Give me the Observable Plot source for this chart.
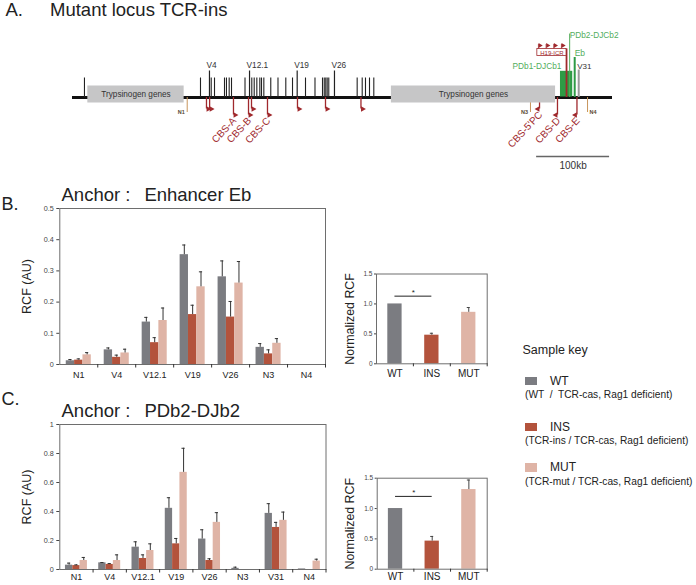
<!DOCTYPE html>
<html><head><meta charset="utf-8">
<script src="https://cdn.jsdelivr.net/npm/d3@7"></script>
<script src="https://cdn.jsdelivr.net/npm/@observablehq/plot@0.6"></script>
<style>
body{margin:0;background:#fff;font-family:"Liberation Sans",Arial,sans-serif;color:#222;}
#fig{position:relative;width:696px;height:585px;overflow:hidden;background:#fff;}
.abs{position:absolute;white-space:pre;line-height:1;}
</style></head><body><div id="fig"></div>
<script>
// ---------- data ----------
const samples = ["WT", "INS", "MUT"];
const sampleColors = ["#7b7c81", "#b3533c", "#dfb4a6"];
const sampleNotes = ["(WT  /  TCR-cas, Rag1 deficient)", "(TCR-ins / TCR-cas, Rag1 deficient)", "(TCR-mut / TCR-cas, Rag1 deficient)"];

// Panel B: anchor Enhancer Eb
const ebLoci = ["N1", "V4", "V12.1", "V19", "V26", "N3", "N4"];
const ebWT = [0.012, 0.047, 0.136, 0.352, 0.281, 0.055, 0];
const ebWTerr = [0.004, 0.006, 0.015, 0.031, 0.051, 0.012, 0];
const ebINS = [0.014, 0.023, 0.070, 0.160, 0.152, 0.034, 0];
const ebINSerr = [0.004, 0.007, 0.016, 0.030, 0.050, 0.013, 0];
const ebMUT = [0.031, 0.037, 0.141, 0.249, 0.261, 0.068, 0];
const ebMUTerr = [0.007, 0.012, 0.040, 0.048, 0.069, 0.015, 0];
const ebNorm = [1.0, 0.478, 0.86];
const ebNormErr = [0, 0.032, 0.08];

// Panel C: anchor PDb2-DJb2
const pdLoci = ["N1", "V4", "V12.1", "V19", "V26", "N3", "V31", "N4"];
const pdWT = [0.030, 0.046, 0.154, 0.422, 0.210, 0.008, 0.387, 0.004];
const pdWTerr = [0.014, 0.002, 0.037, 0.073, 0.064, 0.008, 0.067, 0];
const pdINS = [0.027, 0.035, 0.076, 0.177, 0.062, 0, 0.290, 0];
const pdINSerr = [0.005, 0.006, 0.025, 0.037, 0.012, 0, 0.035, 0];
const pdMUT = [0.062, 0.062, 0.131, 0.670, 0.325, 0, 0.339, 0.058];
const pdMUTerr = [0.021, 0.039, 0.046, 0.166, 0.067, 0, 0.057, 0.013];
const pdNorm = [1.0, 0.463, 1.313];
const pdNormErr = [0, 0.077, 0.157];

// Panel A: locus map (kb)
const locusKb = [0, 740];
const trypStart = [21, 437];
const trypEnd = [153, 662];
const trypLabel = ["Trypsinogen genes", "Trypsinogen genes"];
const vGenes = [16.4, 175.4, 190.1, 194.6, 208.3, 211.0, 214.7, 217.9, 236.4, 245.7, 249.0, 252.6, 256.7, 259.0, 262.2, 271.7, 281.6, 292.3, 301.5, 319.3, 332.3, 342.6, 345.0, 347.1, 349.0, 351.2, 390.1, 397.0, 401.5, 407.0, 412.9];
const vNamed = ["V4", "V12.1", "V19", "V26"];
const vNamedKb = [187.7, 242.6, 307.9, 359.0];
const cbsKb = [183.6, 187.9, 220.6, 241.2, 245.3, 267.2, 308.3, 346.7, 395.3, 640.0, 664.6, 691.3];
const cbsName = ["", "", "CBS-A", "CBS-B", "", "CBS-C", "", "", "", "CBS-5'PC", "CBS-D", "CBS-E"];
const cbsForward = [1, 1, 1, 1, 1, 1, 1, 1, 1, 0, 0, 0];
const cbsMajor = [0, 0, 1, 1, 0, 1, 0, 0, 0, 0, 1, 1];
const nKb = [157.2, 627.6, 705.8];
const nName = ["N1", "N3", "N4"];
const h19Kb = [637, 677];
const h19Flags = [638.5, 649, 659.5, 670];
const pdb1Block = [668.7, 685.5];
const pdb2Kb = 681.3;
const ebKb = 688.2;
const v31Kb = 693.7;
const scaleBarKb = [636, 736];

// ---------- helpers ----------
const fig = document.getElementById("fig");
const FONT = "'Liberation Sans', Arial, sans-serif";
function put(el, left, top) {
  el.style.position = "absolute"; el.style.left = left + "px"; el.style.top = top + "px";
  fig.appendChild(el);
}
function label(text, left, baseline, size, extra = {}) {
  const d = document.createElement("div");
  d.className = "abs"; d.textContent = text;
  d.style.fontSize = size + "px";
  d.style.left = left + "px"; d.style.top = (baseline - 0.8465 * size) + "px";
  Object.assign(d.style, extra);
  fig.appendChild(d);
}

// ---------- Panel A: locus map ----------
const red = "#a0292d", green = "#2e9b45", lightGreen = "#52ad5c", tan = "#c8955c";
const cbs = cbsKb.map((kb, i) => ({kb, name: cbsName[i], fwd: cbsForward[i] === 1, major: cbsMajor[i] === 1}));
const stemEnd = d => d.major ? 114.5 : 108.5;
const nm = nKb.map((kb, i) => ({kb, name: nName[i], i}));
const tryp = trypStart.map((s, i) => ({s, e: trypEnd[i], t: trypLabel[i]}));
const named = vNamed.map((n, i) => ({n, kb: vNamedKb[i]}));

const map = Plot.plot({
  width: 696, height: 185, marginLeft: 72, marginRight: 84, marginTop: 0, marginBottom: 0,
  x: {domain: locusKb, axis: null},
  y: {type: "identity", axis: null},
  style: {fontFamily: FONT, overflow: "visible", background: "transparent"},
  marks: [
    Plot.ruleY([locusKb], {x1: d => d[0], x2: d => d[1], y: 97, stroke: "#111", strokeWidth: 3.2}),
    Plot.ruleX(vGenes, {x: d => d, y1: 97, y2: 77.5, stroke: "#222", strokeWidth: 1.1}),
    Plot.ruleX(named, {x: "kb", y1: 97, y2: 70.5, stroke: "#222", strokeWidth: 1.2}),
    Plot.text(named, {x: "kb", y: 67.5, text: "n", textAnchor: "start", lineAnchor: "bottom", dx: -3, fontSize: 8.3, fill: "#333"}),
    // CBS arrows
    Plot.ruleX(cbs, {x: "kb", y1: 97, y2: stemEnd, stroke: red, strokeWidth: 1.3}),
    Plot.dot(cbs.filter(d => d.fwd), {x: "kb", y: stemEnd, symbol: "triangle", r: 2.1, fill: red, stroke: "none", rotate: 90, dx: 1.7}),
    Plot.dot(cbs.filter(d => !d.fwd), {x: "kb", y: stemEnd, symbol: "triangle", r: 2.1, fill: red, stroke: "none", rotate: -90, dx: -1.7}),
    Plot.text(cbs.filter(d => d.name), {x: "kb", y: d => stemEnd(d) + 4, text: "name", rotate: -47, textAnchor: "end", dx: 1, fill: red, fontSize: 10}),
    // N markers
    Plot.ruleX(nm, {x: "kb", y1: 97, y2: 112, stroke: tan, strokeWidth: 1}),
    Plot.text(nm.filter(d => d.i < nm.length - 1), {x: "kb", y: 113.5, text: "name", textAnchor: "end", lineAnchor: "bottom", dx: -2.5, fontSize: 5.5, fontWeight: "bold", fill: "#5a4a30"}),
    Plot.text(nm.filter(d => d.i === nm.length - 1), {x: "kb", y: 113.5, text: "name", textAnchor: "start", lineAnchor: "bottom", dx: 2, fontSize: 5.5, fontWeight: "bold", fill: "#5a4a30"}),
    // trypsinogen boxes
    Plot.rect(tryp, {x1: "s", x2: "e", y1: 85.5, y2: 102.5, fill: "#c6c6c7"}),
    Plot.text(tryp, {x: d => (d.s + d.e) / 2, y: 96, text: "t", lineAnchor: "bottom", fontSize: 8.2, fill: "#333"}),
    // D-J-C cluster
    Plot.rect([pdb1Block], {x1: d => d[0], x2: d => d[1], y1: 70.8, y2: 96.5, fill: green}),
    Plot.ruleX([pdb2Kb], {x: d => d, y1: 33.5, y2: 97, stroke: lightGreen, strokeWidth: 1}),
    Plot.ruleX([h19Kb[1]], {x: d => d, y1: 48.5, y2: 97, stroke: red, strokeWidth: 1.8}),
    Plot.ruleX([ebKb], {x: d => d, y1: 57, y2: 97, stroke: green, strokeWidth: 2}),
    Plot.ruleX([v31Kb], {x: d => d, y1: 69.5, y2: 97, stroke: "#9a9a9a", strokeWidth: 2}),
    Plot.rect([h19Kb], {x1: d => d[0], x2: d => d[1], y1: 48.5, y2: 55.5, fill: "white", stroke: red, strokeWidth: 0.8}),
    Plot.text(["H19-ICR"], {x: (h19Kb[0] + h19Kb[1]) / 2, y: 54.5, text: d => d, lineAnchor: "bottom", fontSize: 6, fill: red}),
    Plot.ruleX(h19Flags, {x: d => d, y1: 48.5, y2: 44, stroke: red, strokeWidth: 0.8}),
    Plot.dot(h19Flags, {x: d => d, y: 45, symbol: "triangle", r: 1.8, fill: red, stroke: "none", rotate: 90, dx: 1.5}),
    Plot.text(["PDb2-DJCb2"], {x: pdb2Kb, y: 37, text: d => d, textAnchor: "start", lineAnchor: "bottom", fontSize: 8.3, fill: lightGreen}),
    Plot.text(["Eb"], {x: ebKb, y: 55.5, text: d => d, textAnchor: "start", lineAnchor: "bottom", fontSize: 8.5, fill: lightGreen}),
    Plot.text(["PDb1-DJCb1"], {x: pdb1Block[0], y: 68.5, text: d => d, textAnchor: "end", lineAnchor: "bottom", dx: 1, fontSize: 8.3, fill: lightGreen}),
    Plot.text(["V31"], {x: v31Kb, y: 68.5, text: d => d, textAnchor: "start", lineAnchor: "bottom", dx: -1.5, fontSize: 8, fill: "#333"}),
    // scale bar
    Plot.ruleY([scaleBarKb], {x1: d => d[0], x2: d => d[1], y: 156, stroke: "#666", strokeWidth: 1.5}),
    Plot.text([scaleBarKb], {x: d => (d[0] + d[1]) / 2, y: 168.5, text: d => `${d[1] - d[0]}kb`, lineAnchor: "bottom", fontSize: 10, fill: "#333"})
  ]
});
put(map, 0, 0);
label("A.", 5.5, 17, 18.5);
label("Mutant locus TCR-ins", 50, 17, 18.5);

// ---------- grouped bar charts ----------
function groupedBars(loci, vals, errs, o) {
  const pw = o.width - o.mL - o.mR, bw = pw / loci.length, barW = bw * 0.22;
  const inset = (bw - barW) / 2, capInset = (bw - 3.2) / 2;
  const marks = [];
  samples.forEach((s, k) => {
    const data = loci.map((loc, i) => ({loc, value: vals[k][i], err: errs[k][i]}));
    const off = (k - 1) * barW;
    marks.push(Plot.barY(data, {x: "loc", y: "value", fill: sampleColors[k], insetLeft: inset, insetRight: inset, dx: off}));
    const ed = data.filter(d => d.err > 0);
    marks.push(Plot.ruleX(ed, {x: "loc", y1: "value", y2: d => d.value + d.err, stroke: "#333", strokeWidth: 1, dx: off}));
    marks.push(Plot.ruleY(ed, {x1: "loc", x2: "loc", y: d => d.value + d.err, insetLeft: capInset, insetRight: capInset, stroke: "#333", strokeWidth: 1, dx: off}));
  });
  return Plot.plot({
    width: o.width, height: o.height, marginLeft: o.mL, marginRight: o.mR, marginTop: o.mT, marginBottom: o.mB,
    x: {domain: loci, padding: 0, round: false},
    y: {domain: [0, o.yMax]},
    style: {fontFamily: FONT, overflow: "visible", background: "transparent"},
    marks: [
      ...marks,
      Plot.frame({stroke: "#6e6e6e", strokeWidth: 1}),
      Plot.axisY({ticks: o.yTicks, tickFormat: d3.format("~g"), tickSize: 3, tickPadding: 3, fontSize: 7.2, label: null, color: "#444"}),
      Plot.axisX({tickSize: 0, tickPadding: o.xPad, fontSize: 9, label: null, color: "#222"}),
      Plot.axisX({tickSize: 3.5, tickFormat: () => "", dx: bw / 2, label: null, color: "#333"}),
      Plot.text(["RCF (AU)"], {frameAnchor: "left", textAnchor: "middle", text: d => d, rotate: -90, dx: o.yLabelDx, fontSize: 12.5, fill: "#222"})
    ]
  });
}

function normBars(vals, errs, o) {
  const pw = o.width - o.mL - o.mR, bw = pw / samples.length, barW = 14.3;
  const inset = (bw - barW) / 2, capInset = (bw - 3) / 2;
  const data = samples.map((s, i) => ({s, value: vals[i], err: errs[i]}));
  const ed = data.filter(d => d.err > 0);
  const sig = [{a: samples[0], b: samples[1], y: o.sigY, t: "*"}];
  return Plot.plot({
    width: o.width, height: o.height, marginLeft: o.mL, marginRight: o.mR, marginTop: o.mT, marginBottom: o.mB,
    x: {domain: samples, padding: 0, round: false},
    y: {domain: [0, 1.5]},
    color: {domain: samples, range: sampleColors},
    style: {fontFamily: FONT, overflow: "visible", background: "transparent"},
    marks: [
      Plot.barY(data, {x: "s", y: "value", fill: "s", insetLeft: inset, insetRight: inset}),
      Plot.ruleX(ed, {x: "s", y1: "value", y2: d => d.value + d.err, stroke: "#444", strokeWidth: 1}),
      Plot.ruleY(ed, {x1: "s", x2: "s", y: d => d.value + d.err, insetLeft: capInset, insetRight: capInset, stroke: "#444", strokeWidth: 1}),
      Plot.ruleY(sig, {x1: "a", x2: "b", y: "y", insetLeft: bw / 2, insetRight: bw / 2, stroke: "#222", strokeWidth: 1}),
      Plot.text(sig, {x: "a", y: "y", text: "t", dx: bw / 2, dy: -3.5, fontSize: 8, fill: "#222"}),
      Plot.frame({stroke: "#6e6e6e", strokeWidth: 1}),
      Plot.axisY({ticks: [0, 0.5, 1, 1.5], tickFormat: d => d === 0 ? "0" : d.toFixed(1), tickSize: 2, tickPadding: 2, fontSize: 6.5, label: null, color: "#444"}),
      Plot.axisX({tickSize: 0, tickPadding: o.xPad, fontSize: 10, label: null, color: "#222"}),
      Plot.axisX({tickSize: 3, tickFormat: () => "", dx: bw / 2, label: null, color: "#333"}),
      Plot.text(["Normalized RCF"], {frameAnchor: "left", textAnchor: "middle", text: d => d, rotate: -90, dx: o.yLabelDx, fontSize: 12.4, fill: "#222"})
    ]
  });
}

// Panel B
label("B.", 1.5, 210, 18);
label("Anchor :  \u2009Enhancer Eb", 61.5, 201.7, 18.5);
put(groupedBars(ebLoci, [ebWT, ebINS, ebMUT], [ebWTerr, ebINSerr, ebMUTerr],
  {width: 340, height: 200, mL: 59.3, mR: 15, mT: 18, mB: 26, yMax: 0.5, yTicks: [0, 0.1, 0.2, 0.3, 0.4, 0.5], xPad: 7, yLabelDx: -32.5}), 0, 190);
put(normBars(ebNorm, ebNormErr, {width: 160, height: 135, mL: 36, mR: 13.3, mT: 18.5, mB: 26.7, sigY: 1.13, xPad: 6.5, yLabelDx: -26}), 340, 255);

// Panel C
label("C.", 1.5, 405, 18);
label("Anchor :  \u2009PDb2-DJb2", 61.5, 418, 18.5);
put(groupedBars(pdLoci, [pdWT, pdINS, pdMUT], [pdWTerr, pdINSerr, pdMUTerr],
  {width: 340, height: 185, mL: 59.3, mR: 14.5, mT: 24, mB: 16, yMax: 1, yTicks: [0, 0.2, 0.4, 0.6, 0.8, 1], xPad: 4.5, yLabelDx: -32.5}), 0, 400);
put(normBars(pdNorm, pdNormErr, {width: 160, height: 123, mL: 36.7, mR: 13.3, mT: 15.7, mB: 16.3, sigY: 1.2, xPad: 3.5, yLabelDx: -26.7}), 340, 462);

// ---------- legend ----------
label("Sample key", 522.5, 354.5, 12.5);
const swTop = [376.7, 422.7, 463.3];
const nameBase = [385, 431, 471.5];
const noteBase = [399, 444.5, 486];
samples.forEach((s, k) => {
  const sw = document.createElement("div");
  sw.style.width = "11.7px"; sw.style.height = "8.3px"; sw.style.background = sampleColors[k];
  put(sw, 525, swTop[k]);
  label(s, 550, nameBase[k], 12);
  label(sampleNotes[k], 525, noteBase[k], 10.2);
});
</script></body></html>
